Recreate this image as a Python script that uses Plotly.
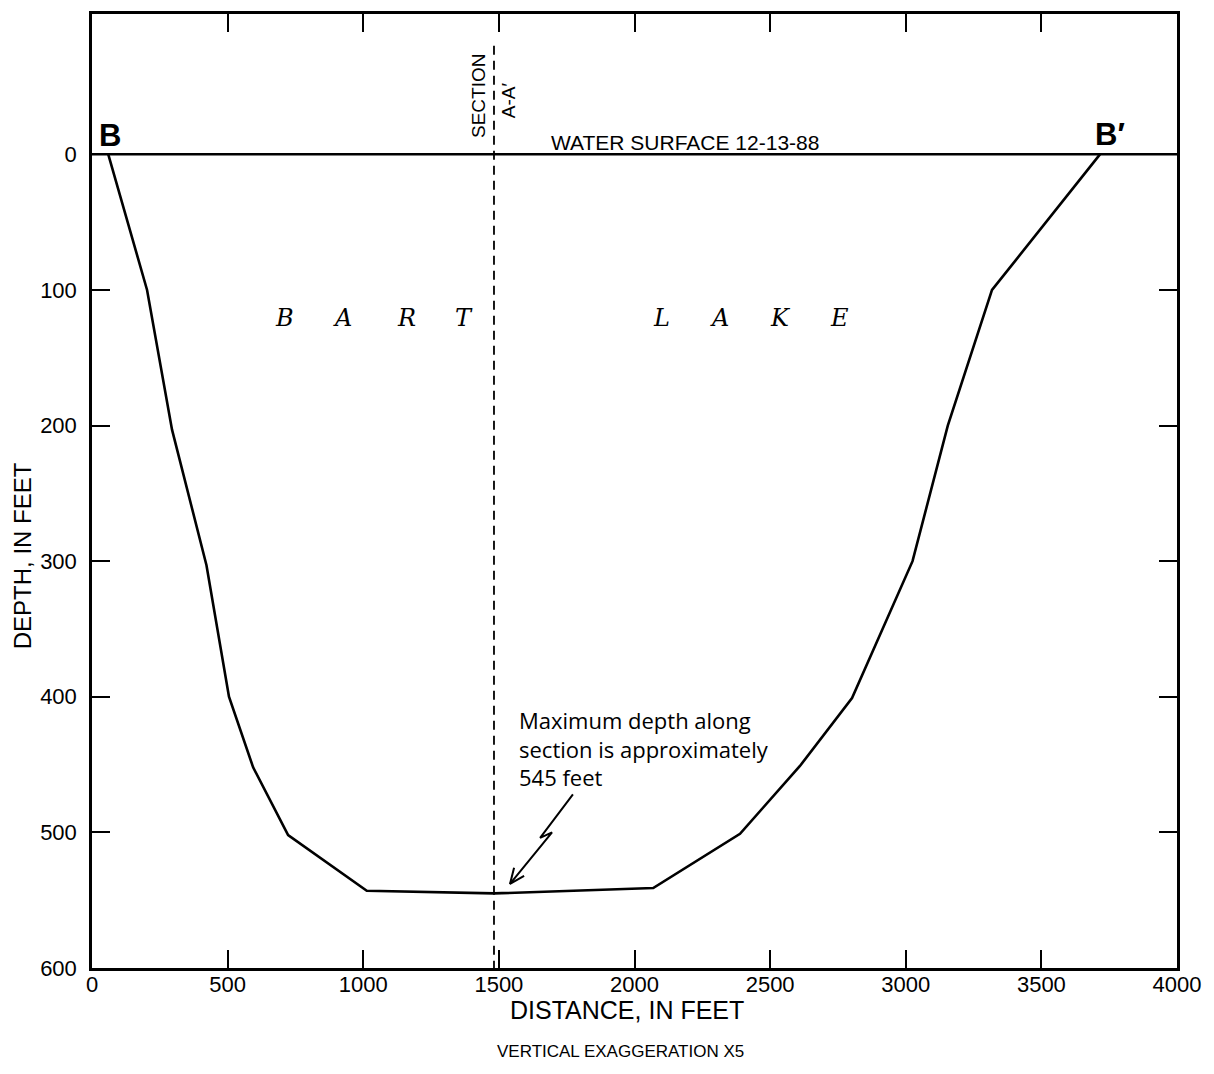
import plotly.graph_objects as go

# ---- data ----
profile_distance = [60, 203, 295, 422, 505, 594, 723, 1013, 1482, 2069, 2389, 2610, 2802, 3025, 3155, 3318, 3716]
profile_depth = [0, 100, 203, 303, 400, 452, 502, 543, 545, 541, 501, 451, 401, 300, 200, 100, 0]

x_ticks = [0, 500, 1000, 1500, 2000, 2500, 3000, 3500, 4000]
y_ticks = [0, 100, 200, 300, 400, 500, 600]

section_x = 1482
section_top = -80

bart_letters = ["B", "A", "R", "T", "L", "A", "K", "E"]
bart_x = [711, 925, 1158, 1371, 2098, 2312, 2540, 2754]
bart_depth = 121

arrow_x = [1773, 1652, 1696, 1541]
arrow_y = [472, 504, 500, 538]
head_x = [1593, 1541, 1556]
head_y = [532, 538, 526]

SANS = "Liberation Sans"

fig = go.Figure()

# lake-bottom profile
fig.add_trace(go.Scatter(x=profile_distance, y=profile_depth, mode="lines",
                         line=dict(color="black", width=2.6), hoverinfo="skip", showlegend=False))

# lightning arrow
fig.add_trace(go.Scatter(x=arrow_x, y=arrow_y, mode="lines",
                         line=dict(color="black", width=2), hoverinfo="skip", showlegend=False))
fig.add_trace(go.Scatter(x=head_x, y=head_y, mode="lines",
                         line=dict(color="black", width=2), hoverinfo="skip", showlegend=False))

# water surface
fig.add_shape(type="line", xref="x", yref="y", x0=x_ticks[0], x1=x_ticks[-1], y0=0, y1=0,
              line=dict(color="black", width=2.5))
# section A-A'
fig.add_shape(type="line", xref="x", yref="y", x0=section_x, x1=section_x, y0=section_top, y1=y_ticks[-1],
              line=dict(color="black", width=1.8, dash="9px,6px"))

ann = []
ann.append(dict(x=66, y=-14, text="<b>B</b>", font=dict(family=SANS, size=31, color="black"),
                showarrow=False, xanchor="center", yanchor="middle"))
ann.append(dict(x=3753, y=-15, text="<b>B′</b>", font=dict(family=SANS, size=31, color="black"),
                showarrow=False, xanchor="center", yanchor="middle"))
ann.append(dict(x=2186, y=-9, text="WATER SURFACE 12-13-88", font=dict(family=SANS, size=21, color="black"),
                showarrow=False, xanchor="center", yanchor="middle"))
ann.append(dict(x=1423, y=-43, text="SECTION", textangle=-90, font=dict(family=SANS, size=19, color="black"),
                showarrow=False, xanchor="center", yanchor="middle"))
ann.append(dict(x=1534, y=-40, text="A-A′", textangle=-90, font=dict(family=SANS, size=19, color="black"),
                showarrow=False, xanchor="center", yanchor="middle"))
for ch, xv in zip(bart_letters, bart_x):
    ann.append(dict(x=xv, y=bart_depth, text="<i>" + ch + "</i>",
                    font=dict(family="DejaVu Serif", size=24, color="black"),
                    showarrow=False, xanchor="center", yanchor="middle"))
ann.append(dict(x=1567, y=438, text="Maximum depth along<br>section is approximately<br>545 feet",
                font=dict(family="Open Sans", size=22, color="black"), align="left",
                showarrow=False, xanchor="left", yanchor="middle"))
# axis titles
ann.append(dict(xref="paper", yref="paper", x=0.493, y=-0.044, text="DISTANCE, IN FEET",
                font=dict(family=SANS, size=25, color="black"), showarrow=False,
                xanchor="center", yanchor="middle"))
ann.append(dict(xref="paper", yref="paper", x=0.4875, y=-0.088, text="VERTICAL EXAGGERATION X5",
                font=dict(family=SANS, size=17, color="black"), showarrow=False,
                xanchor="center", yanchor="middle"))
ann.append(dict(xref="paper", yref="paper", x=-0.0645, y=0.4316, text="DEPTH, IN FEET", textangle=-90,
                font=dict(family=SANS, size=24, color="black"), showarrow=False,
                xanchor="center", yanchor="middle"))

# the page body adds an 8px margin, so the figure is sized/margined to compensate
fig.update_layout(
    width=1206, height=1066,
    margin=dict(l=84, r=37, t=3, b=106),
    paper_bgcolor="white", plot_bgcolor="white",
    showlegend=False,
    annotations=ann,
)
fig.update_xaxes(range=[0, 4000], tickvals=x_ticks, ticktext=[str(v) for v in x_ticks],
                 ticks="inside", ticklen=18, tickwidth=2, tickcolor="black",
                 showline=True, linewidth=2.5, linecolor="black", mirror="allticks",
                 showgrid=False, zeroline=False,
                 tickfont=dict(family=SANS, size=22, color="black"), ticklabelstandoff=-5)
fig.update_yaxes(range=[600, -103.5], tickvals=y_ticks, ticktext=[str(v) for v in y_ticks],
                 ticks="inside", ticklen=18, tickwidth=2, tickcolor="black",
                 showline=True, linewidth=2.5, linecolor="black", mirror="allticks",
                 showgrid=False, zeroline=False,
                 tickfont=dict(family=SANS, size=22, color="black"), ticklabelstandoff=8)

fig.write_html("out.html")
